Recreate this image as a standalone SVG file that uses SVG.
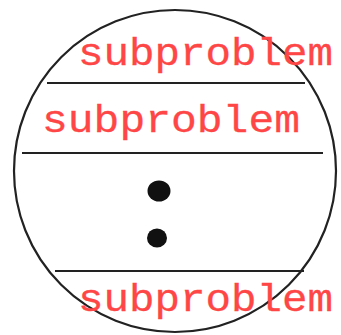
<svg xmlns="http://www.w3.org/2000/svg" width="341" height="335" viewBox="0 0 341 335">
<style>
.lbl{font-family:"Liberation Mono","Courier New",monospace;font-size:38px;fill:#ff4646;stroke:#ff4646;stroke-width:0.3}
.ln{stroke:#222;stroke-width:2;fill:none}
</style>
<rect width="341" height="335" fill="#fff"/>
<g id="circle"><circle cx="175" cy="171" r="161" fill="none" stroke="#222" stroke-width="2.2"/></g>
<g id="connectors">
<line class="ln" x1="47" y1="83" x2="305" y2="83"/>
<line class="ln" x1="22" y1="153" x2="323" y2="153"/>
<line class="ln" x1="55" y1="271" x2="304" y2="271"/>
</g>
<g id="dots">
<ellipse cx="159" cy="191" rx="11.5" ry="10.5" fill="#111"/>
<ellipse cx="157" cy="238" rx="10" ry="9.5" fill="#111"/>
</g>
<g id="sub1"><text class="lbl" x="78" y="65" textLength="255" lengthAdjust="spacingAndGlyphs">subproblem</text></g>
<g id="sub2"><text class="lbl" x="42" y="132" textLength="258" lengthAdjust="spacingAndGlyphs">subproblem</text></g>
<g id="sub3"><text class="lbl" x="78" y="311" textLength="255" lengthAdjust="spacingAndGlyphs">subproblem</text></g>
</svg>
